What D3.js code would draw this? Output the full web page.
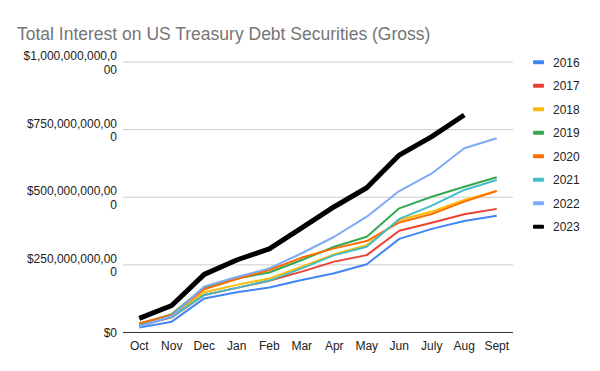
<!DOCTYPE html>
<html>
<script src='https://d3js.org/d3.v7.min.js'></script>
<style>
body {margin: 0; background: white;}
text {font-family: 'Liberation Sans', Arial, sans-serif;}
</style>
<body>
<script>
// months of the fiscal year
var months = ['Oct','Nov','Dec','Jan','Feb','Mar','Apr','May','Jun','July','Aug','Sept'];
var years = ['2016','2017','2018','2019','2020','2021','2022','2023'];
var colors = ['#4285f4','#ea4335','#fbbc04','#34a853','#ff6d01','#46bdc6','#7baaf7','#000000'];
var yTicks = [0, 250e9, 500e9, 750e9, 1000e9];

// cumulative interest, billions of dollars
var v2016 = [18, 40, 126, 149, 166, 194, 219, 252, 346, 383, 412, 432];
var v2017 = [24, 56, 139, 165, 191, 225, 262, 286, 376, 406, 437, 457];
var v2018 = [29, 61, 149, 176, 200, 243, 289, 323, 416, 447, 490, 523];
var v2019 = [31, 68, 166, 200, 222, 268, 317, 354, 459, 502, 539, 574];
var v2020 = [34, 65, 160, 198, 231, 277, 311, 338, 407, 438, 484, 523];
var v2021 = [25, 58, 139, 165, 192, 237, 286, 317, 420, 469, 527, 564];
var v2022 = [22, 61, 170, 205, 237, 293, 354, 428, 523, 588, 681, 718];
var v2023 = [52, 100, 215, 268, 309, 387, 465, 535, 656, 724, 804];
var values = [v2016, v2017, v2018, v2019, v2020, v2021, v2022, v2023];

var svg = d3.select('body').append('svg')
  .attr('width', 600).attr('height', 371);

var x = d3.scalePoint().domain(months).range([123, 513]).padding(0.5);
var y = d3.scaleLinear().domain([0, 1000e9]).range([332.5, 62]);

svg.append('text')
  .attr('x', 17).attr('y', 40)
  .style('font-size', '17.5px')
  .style('fill', '#757575')
  .text('Total Interest on US Treasury Debt Securities (Gross)');

// gridlines
svg.append('g').selectAll('line')
  .data(yTicks.slice(1))
  .enter().append('line')
  .attr('x1', 123).attr('x2', 513)
  .attr('y1', function(d){return y(d);})
  .attr('y2', function(d){return y(d);})
  .style('stroke', '#cccccc');

// y labels, wrapped like the original
var fmt = d3.format('$,.0f');
var yl = svg.append('g').selectAll('text')
  .data(yTicks)
  .enter().append('text')
  .attr('text-anchor', 'end')
  .style('font-size', '12px')
  .style('fill', '#222');
yl.each(function(d){
  var s = fmt(d);
  var t = d3.select(this);
  if (s.length <= 3) {
    t.append('tspan').attr('x', 117).attr('y', y(d) + 4).text(s);
  } else {
    var first = s.length > 16 ? s.slice(0, 16) : s.slice(0, 15);
    var rest = s.slice(first.length);
    t.append('tspan').attr('x', 117).attr('y', y(d) - 2).text(first);
    t.append('tspan').attr('x', 117).attr('y', y(d) + 11.5).text(rest);
  }
});

// lines
var line = d3.line()
  .x(function(d, i){return x(months[i]);})
  .y(function(d){return y(d * 1e9);});

svg.append('g').selectAll('path')
  .data(values)
  .enter().append('path')
  .attr('d', line)
  .style('fill', 'none')
  .style('stroke', function(d, i){return colors[i];})
  .style('stroke-width', function(d, i){return i == 7 ? 5 : 2;})
  .style('stroke-linejoin', 'round');

// x axis
svg.append('line')
  .attr('x1', 123).attr('x2', 513)
  .attr('y1', y(0)).attr('y2', y(0))
  .style('stroke', '#333')
  .style('stroke-width', 1);

svg.append('g').selectAll('text')
  .data(months)
  .enter().append('text')
  .attr('x', function(d){return x(d);})
  .attr('y', 350)
  .attr('text-anchor', 'middle')
  .style('font-size', '12px')
  .style('fill', '#222')
  .text(function(d){return d;});

// legend
var legend = svg.append('g').selectAll('g')
  .data(years)
  .enter().append('g')
  .attr('transform', function(d, i){return 'translate(533,' + (62.3 + i * 23.5) + ')';});
legend.append('rect')
  .attr('x', 0).attr('y', -2)
  .attr('width', 11).attr('height', 4)
  .attr('rx', 1)
  .style('fill', function(d, i){return colors[i];});
legend.append('text')
  .attr('x', 20).attr('y', 4.5)
  .style('font-size', '12px')
  .style('fill', '#222')
  .text(function(d){return d;});
</script>
</body>
</html>
